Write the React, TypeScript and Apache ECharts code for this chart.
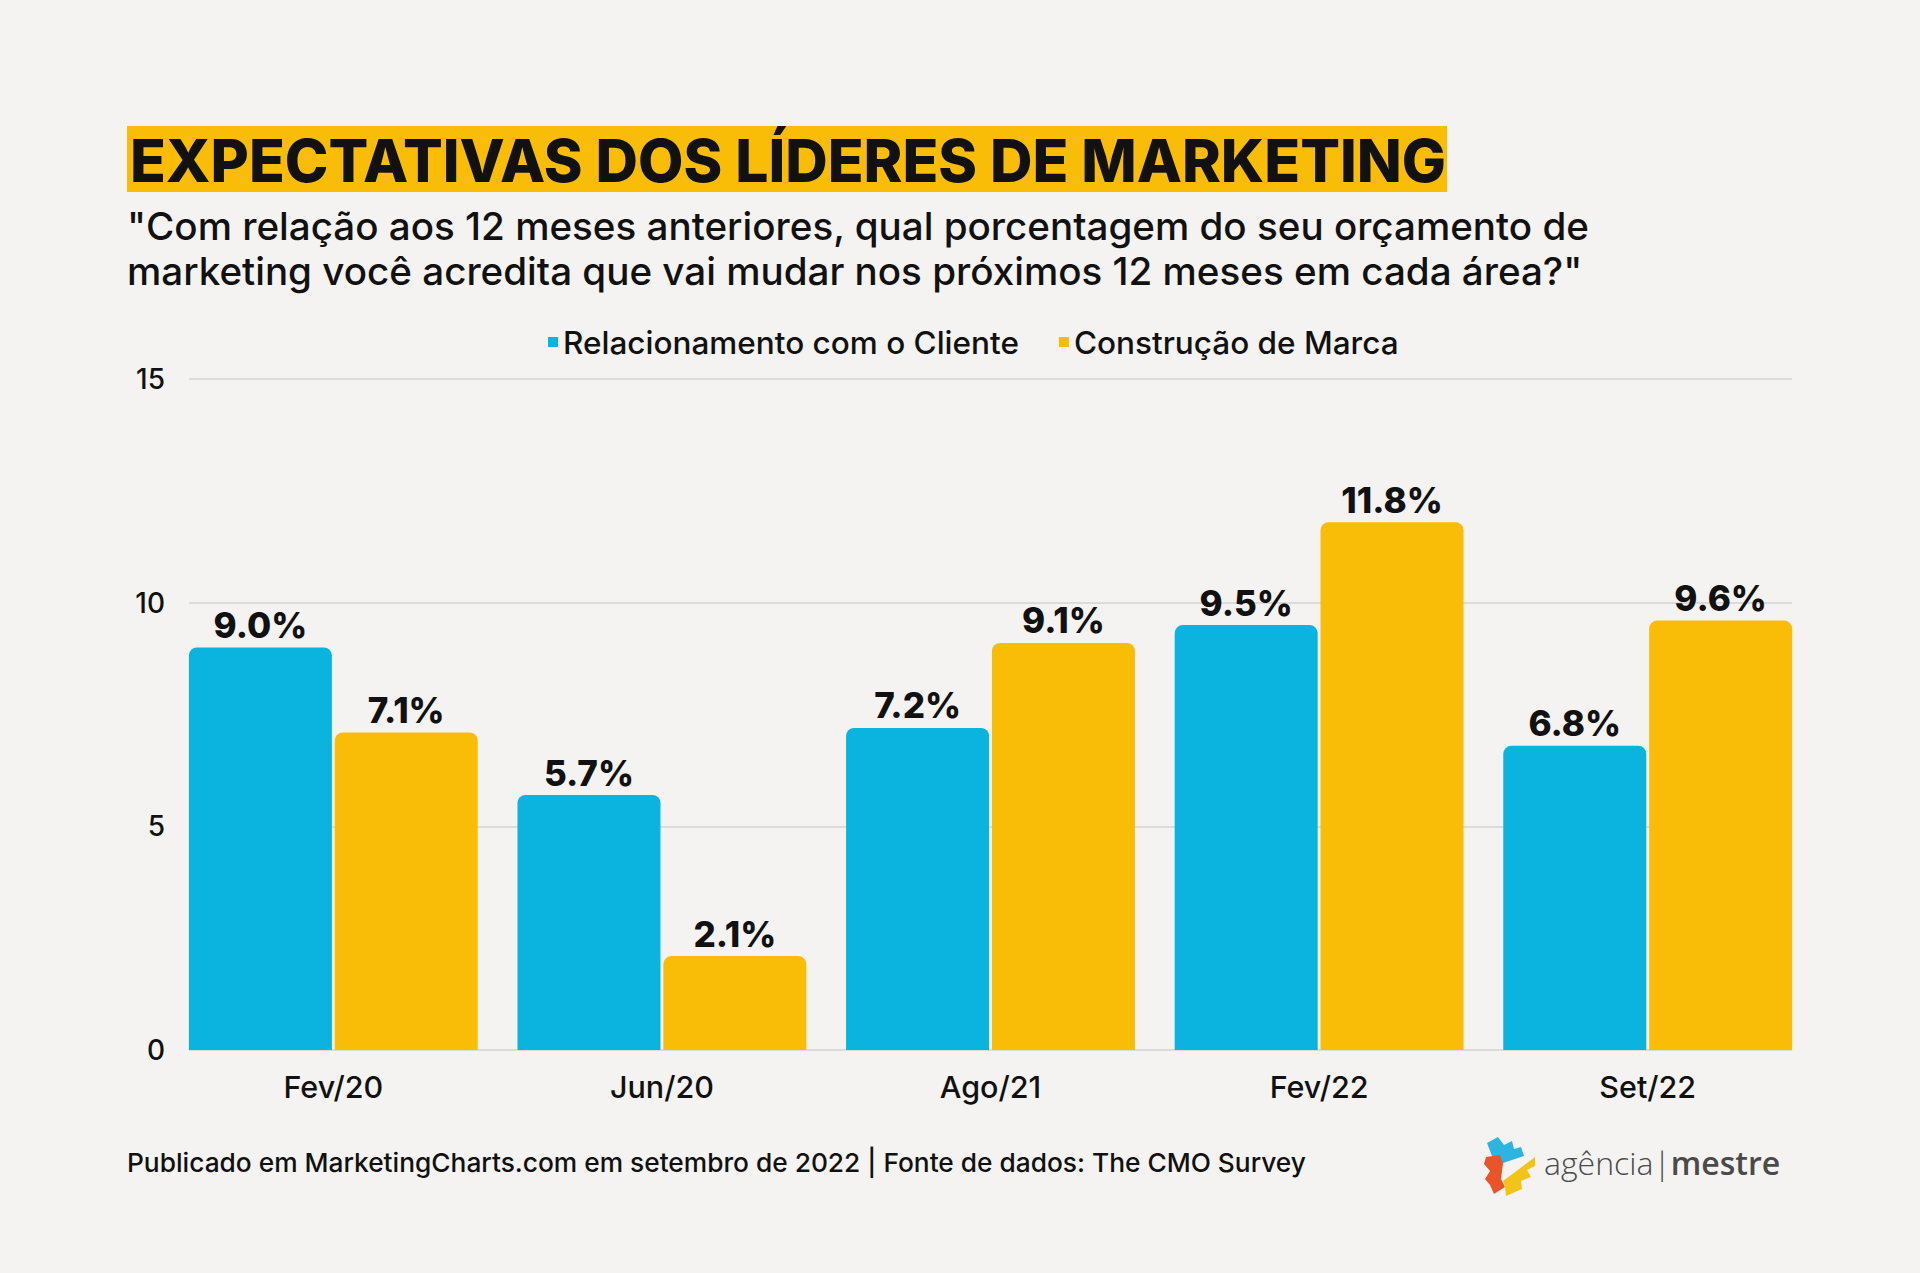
import React, { useEffect, useRef } from "react";
import * as echarts from "echarts";

const categories = ["Fev/20", "Jun/20", "Ago/21", "Fev/22", "Set/22"];
const clienteValues = [9.0, 5.7, 7.2, 9.5, 6.8];
const marcaValues = [7.1, 2.1, 9.1, 11.8, 9.6];
const seriesNames = ["Relacionamento com o Cliente", "Construção de Marca"];
const yTicks = { min: 0, max: 15, interval: 5 };

const TITLE = "EXPECTATIVAS DOS LÍDERES DE MARKETING";
const SUBTITLE_1 = "\"Com relação aos 12 meses anteriores, qual porcentagem do seu orçamento de";
const SUBTITLE_2 = "marketing você acredita que vai mudar nos próximos 12 meses em cada área?\"";
const FOOTER = "Publicado em MarketingCharts.com em setembro de 2022 | Fonte de dados: The CMO Survey";

const BLUE = "#0bb4df";
const YELLOW = "#f9bd08";
const INK = "#111111";
const FONT = "Inter, 'Noto Sans', sans-serif";

export default function App() {
  const ref = useRef<HTMLDivElement>(null);
  useEffect(() => {
    if (!ref.current) return;
    const chart = echarts.init(ref.current, undefined, { renderer: "svg" });
    const labelStyle = {
      show: true,
      position: "top" as const,
      distance: 5,
      color: INK,
      fontFamily: FONT,
      fontWeight: 800,
      fontSize: 35,
      formatter: (p: any) => Number(p.value).toFixed(1) + "%",
    };
    chart.setOption({
      animation: false,
      backgroundColor: "#f4f3f1",
      textStyle: { fontFamily: FONT },
      legend: {
        left: 543,
        top: 321,
        icon: "rect",
        itemWidth: 10,
        itemHeight: 10,
        itemGap: 40,
        data: seriesNames,
        textStyle: { color: INK, fontSize: 31.5, fontWeight: 500, fontFamily: FONT },
      },
      grid: [
        { left: 169, right: 108, top: 379, bottom: 223 },
        { left: 189, right: 128, top: 379, bottom: 223 },
      ],
      xAxis: [
        {
          type: "category",
          gridIndex: 0,
          data: categories,
          axisLine: { show: false },
          axisTick: { show: false },
          axisLabel: { color: INK, fontSize: 30.5, fontWeight: 500, fontFamily: FONT, margin: 21 },
        },
        { type: "value", gridIndex: 1, min: 0, max: 1, show: false },
      ],
      yAxis: [
        { type: "value", gridIndex: 0, ...yTicks, show: false, splitLine: { show: false } },
        {
          type: "value",
          gridIndex: 1,
          ...yTicks,
          axisLine: { show: false },
          axisTick: { show: false },
          axisLabel: { color: INK, fontSize: 28, fontWeight: 500, fontFamily: FONT, margin: 24 },
          splitLine: { lineStyle: { color: "#d5d3d0", width: 1.5 } },
        },
      ],
      series: [
        {
          name: seriesNames[0],
          type: "bar",
          xAxisIndex: 0,
          yAxisIndex: 0,
          data: clienteValues,
          barWidth: 143,
          barGap: "2%",
          itemStyle: { color: BLUE, borderRadius: [8, 8, 0, 0] },
          label: labelStyle,
        },
        {
          name: seriesNames[1],
          type: "bar",
          xAxisIndex: 0,
          yAxisIndex: 0,
          data: marcaValues,
          barWidth: 143,
          barGap: "2%",
          itemStyle: { color: YELLOW, borderRadius: [8, 8, 0, 0] },
          label: labelStyle,
        },
      ],
      graphic: [
        { type: "rect", shape: { x: 127, y: 126, width: 1320, height: 66 }, style: { fill: YELLOW } },
        {
          type: "text",
          x: 130,
          y: 160,
          style: { text: TITLE, fill: INK, font: `800 58.8px ${FONT}`, verticalAlign: "middle", align: "left" },
        },
        {
          type: "text",
          x: 127,
          y: 226,
          style: { text: SUBTITLE_1, fill: INK, font: `500 38.6px ${FONT}`, verticalAlign: "middle", align: "left" },
        },
        {
          type: "text",
          x: 127,
          y: 271,
          style: { text: SUBTITLE_2, fill: INK, font: `500 38.6px ${FONT}`, verticalAlign: "middle", align: "left" },
        },
        {
          type: "text",
          x: 127,
          y: 1162,
          style: { text: FOOTER, fill: INK, font: `500 26.3px ${FONT}`, verticalAlign: "middle", align: "left" },
        },
        {
          type: "group",
          children: [
            {
              type: "polygon",
              shape: { points: [[1487, 1143], [1498, 1137], [1504, 1145], [1512, 1141], [1514, 1149], [1521, 1147], [1524, 1156], [1503, 1163], [1492, 1156]] },
              style: { fill: "#2fb3e0" },
            },
            {
              type: "polygon",
              shape: { points: [[1486, 1157], [1500, 1155], [1503, 1163], [1501, 1179], [1505, 1187], [1494, 1194], [1490, 1185], [1485, 1179], [1490, 1171], [1484, 1164]] },
              style: { fill: "#e8552b" },
            },
            {
              type: "polygon",
              shape: { points: [[1503, 1181], [1535, 1157], [1535, 1166], [1527, 1170], [1531, 1177], [1521, 1181], [1522, 1189], [1506, 1196], [1505, 1187]] },
              style: { fill: "#f2c318" },
            },
            {
              type: "text",
              x: 1544,
              y: 1162,
              style: {
                text: "{a|agência}{b||}{c|mestre}",
                verticalAlign: "middle",
                align: "left",
                rich: {
                  a: { fontFamily: "'Open Sans', sans-serif", fontSize: 32, fontWeight: 300, fill: "#4a4a4a" },
                  b: { fontFamily: "'Open Sans', sans-serif", fontSize: 32, fontWeight: 300, fill: "#4a4a4a" },
                  c: { fontFamily: "'Open Sans', sans-serif", fontSize: 32, fontWeight: 600, fill: "#4a4a4a" },
                },
              },
            },
          ],
        },
      ],
    });
    return () => chart.dispose();
  }, []);
  return <div ref={ref} style={{ position: "fixed", left: 0, top: 0, width: 1920, height: 1273 }} />;
}
